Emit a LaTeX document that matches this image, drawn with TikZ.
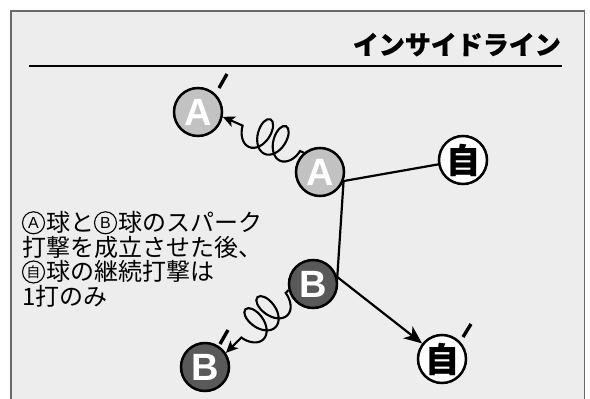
\documentclass[tikz,border=0pt]{standalone}
\usepackage{fontspec}
\setmainfont{Liberation Sans}
\newfontfamily\jp[BoldFeatures={FakeBold=0.6}]{Noto Sans CJK JP}
\usetikzlibrary{decorations.pathmorphing,arrows.meta,calc}
\definecolor{bg}{HTML}{EDEDED}
\definecolor{framegray}{HTML}{6A6A6A}
\definecolor{ballA}{HTML}{C2C2C2}
\definecolor{ballB}{HTML}{595959}
\tikzset{
  ball/.style={circle, draw, line width=2.5pt, minimum size=48pt, inner sep=0pt},
  ballLight/.style={ball, fill=ballA, text=white, font=\bfseries\fontsize{38}{38}\selectfont},
  ballDark/.style={ball, fill=ballB, text=white, font=\bfseries\fontsize{38}{38}\selectfont},
  ballSelf/.style={ball, fill=white, text=black, font=\jp\bfseries\fontsize{34}{34}\selectfont},
  conn/.style={line width=2.2pt},
  primemark/.style={line width=3.4pt},
  bodytext/.style={anchor=base west, inner sep=0pt, font=\jp\fontsize{24}{24.6}\selectfont},
  circled/.style={circle, draw, line width=1.1pt, minimum size=22pt, inner sep=0pt, font=\fontsize{16}{16}\selectfont},
  gluon/.style={line width=2.1pt, decorate, decoration={coil, amplitude=17pt, segment length=17pt, aspect=0.6, pre length=4pt, post length=16pt}},
}
\begin{document}
\begin{tikzpicture}[x=1pt,y=-1pt]
\useasboundingbox (0,0) rectangle (590,399);
\clip (0,0) rectangle (590,399);
\fill[white] (0,0) rectangle (590,399);
\draw[framegray, line width=1.5pt, fill=bg] (10.75,10.75) rectangle (584.25,420);
% title and rule
\node[anchor=base east, inner sep=0pt, font=\jp\bfseries\fontsize{26}{26}\selectfont] (title) at (561,54.4) {インサイドライン};
\coordinate (ruleL) at (29,66);
\coordinate (ruleR) at (562,66);
\draw[line width=2.7pt] (ruleL) -- (ruleR);
% balls
\node[ballLight] (Ap) at (198,112) {A};
\node[ballLight] (A) at (320,172) {A};
\node[ballSelf] (J) at (463,160) {自};
\node[ballDark] (B) at (313,284) {B};
\node[ballDark] (Bp) at (205,367) {B};
\node[ballSelf] (Jp) at (442,359) {自};
% primes
\draw[primemark] ($(Ap.center)+(21,-24)$) -- ($(Ap.center)+(29,-38)$);
\draw[primemark] ($(Bp.center)+(15,-23)$) -- ($(Bp.center)+(23,-37)$);
\draw[primemark] ($(Jp.center)+(21,-22)$) -- ($(Jp.center)+(29,-35)$);
% connectors
\draw[conn] (J) -- (A.-21) -- (B.16);
\draw[conn, -{Stealth[length=18pt,width=15pt,inset=5pt]}] (B.16) -- (Jp);
\draw[gluon, -{Stealth[length=12pt,width=11pt,inset=3pt]}] (A.130) -- (Ap.-11);
\draw[gluon, -{Stealth[length=12pt,width=11pt,inset=3pt]}] (B.194) -- (Bp.34);
% text
\node[bodytext] (t1) at (22,231.7) {\hspace{24pt}球と\hspace{24pt}球のスパーク};
\node[bodytext] (t2) at (22,256.3) {打撃を成立させた後、};
\node[bodytext] (t3) at (22,280.9) {\hspace{24pt}球の継続打撃は};
\node[bodytext] (t4) at (22,305.5) {1打のみ};
\node[circled] (cA) at (33.5,222.8) {A};
\node[circled] (cB) at (105.5,222.8) {B};
\node[circled, font=\jp\fontsize{14}{14}\selectfont] (cJ) at (33.5,272) {自};
\end{tikzpicture}
\end{document}
